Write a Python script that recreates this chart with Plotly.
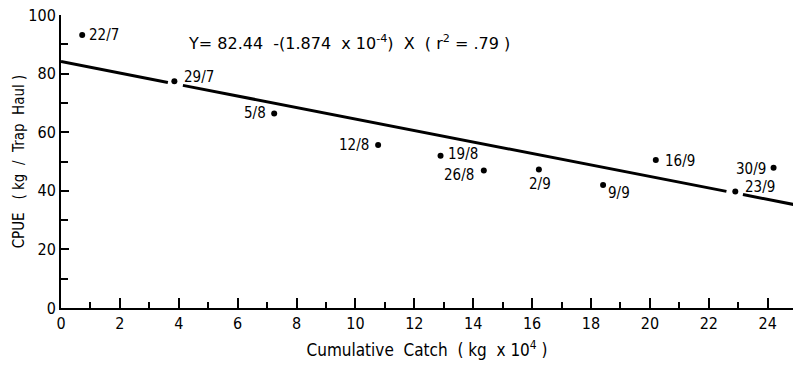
import plotly.graph_objects as go

# ---- data ----
dates = ["22/7", "29/7", "5/8", "12/8", "19/8", "26/8", "2/9", "9/9", "16/9", "23/9", "30/9"]
cum_catch = [0.72, 3.85, 7.24, 10.77, 12.89, 14.36, 16.23, 18.41, 20.2, 22.9, 24.2]
cpue = [93.2, 77.4, 66.4, 55.6, 52.0, 46.9, 47.3, 42.0, 50.5, 39.8, 47.9]

# regression line as drawn (broken around two points)
line_intercept = 84.1
line_slope = -1.96
line_segments = [(0.0, 3.63), (4.14, 22.6), (23.16, 25.0)]

x_ticks = list(range(0, 25, 2))
y_ticks = list(range(0, 101, 20))

FONT = "DejaVu Sans Condensed, DejaVu Sans, Arial, sans-serif"
FONT_W = "DejaVu Sans, Arial, sans-serif"

fig = go.Figure()

# regression line segments
for x0, x1 in line_segments:
    fig.add_trace(go.Scatter(
        x=[x0, x1],
        y=[line_intercept + line_slope * x0, line_intercept + line_slope * x1],
        mode="lines", line=dict(color="black", width=3),
        hoverinfo="skip", showlegend=False, cliponaxis=True))

# points
fig.add_trace(go.Scatter(
    x=cum_catch, y=cpue, mode="markers",
    marker=dict(color="black", size=6),
    showlegend=False))

# label placement (style only): xanchor, xshift, yshift
label_style = {
    "22/7": ("left", 5, 0),
    "29/7": ("left", 8, 4),
    "5/8": ("right", -6, 0),
    "12/8": ("right", -7, 0),
    "19/8": ("left", 5, 2),
    "26/8": ("right", -8, -4),
    "2/9": ("center", 1, -15),
    "9/9": ("left", 3, -8),
    "16/9": ("left", 7, -1),
    "23/9": ("left", 8, 4),
    "30/9": ("right", -6, -1),
}

for d, xv, yv in zip(dates, cum_catch, cpue):
    xa, xs, ys = label_style[d]
    fig.add_annotation(
        x=xv, y=yv, text=d, showarrow=False,
        xanchor=xa, yanchor="middle", xshift=xs, yshift=ys,
        font=dict(family=FONT, size=15, color="black"))

fig.add_annotation(
    x=4.25, y=90.7, xref="x", yref="y",
    text="Y= 82.44  -(1.874  x 10<sup>-4</sup>)  X  ( r<sup>2</sup> = .79 )",
    showarrow=False, xanchor="left", yanchor="middle",
    font=dict(family=FONT_W, size=16, color="black"))

fig.update_layout(
    width=793, height=369,
    margin=dict(l=61, r=0, t=15, b=61),
    paper_bgcolor="white", plot_bgcolor="white",
    font=dict(family=FONT, size=15, color="black"),
    showlegend=False,
    xaxis=dict(
        range=[0, 24.86], tickvals=x_ticks, ticktext=[str(v) for v in x_ticks],
        showgrid=False, zeroline=False,
        showline=True, linecolor="black", linewidth=2,
        ticks="inside", ticklen=10, tickwidth=1.5, tickcolor="black",
        minor=dict(ticks="inside", ticklen=6, tickwidth=1.5, tickcolor="black", dtick=1, tick0=0, showgrid=False),
        tickfont=dict(family=FONT, size=16),
        title=dict(text="Cumulative  Catch  ( kg  x 10<sup>4</sup> )",
                   font=dict(family=FONT, size=17), standoff=12),
    ),
    yaxis=dict(
        range=[0, 100], tickvals=y_ticks, ticktext=[str(v) for v in y_ticks],
        showgrid=False, zeroline=False,
        showline=True, linecolor="black", linewidth=2,
        ticks="inside", ticklen=8, tickwidth=2, tickcolor="black",
        minor=dict(ticks="inside", ticklen=7, tickwidth=2, tickcolor="black", dtick=10, tick0=0, showgrid=False),
        tickfont=dict(family=FONT, size=16),
        title=dict(text="CPUE   ( kg  /  Trap  Haul )",
                   font=dict(family=FONT, size=15), standoff=0),
    ),
)

fig.write_html("out.html")
